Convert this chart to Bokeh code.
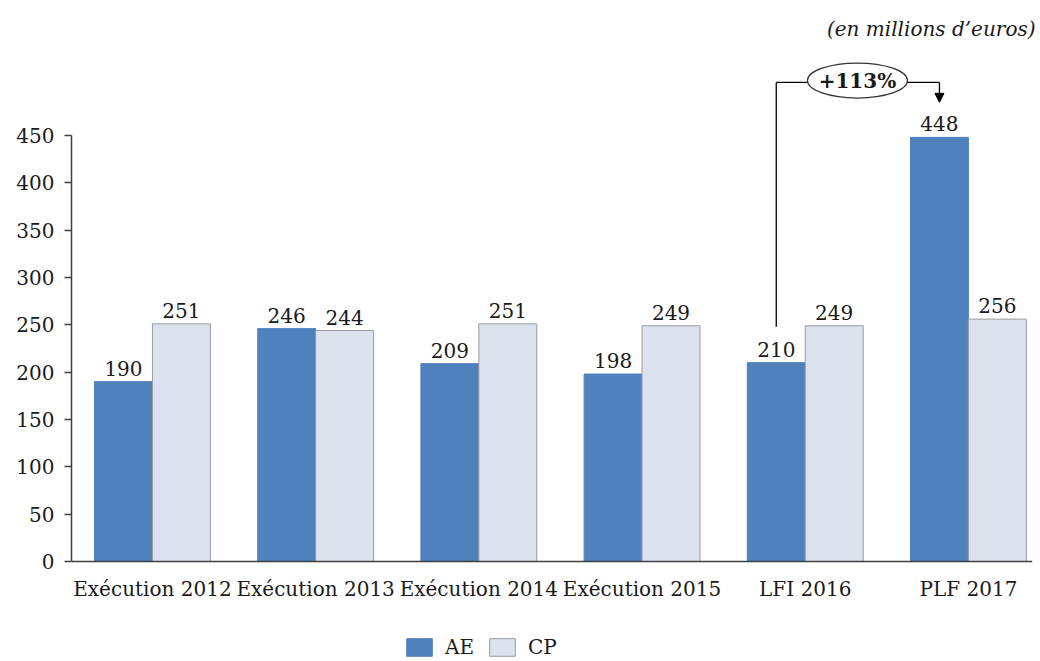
from bokeh.plotting import figure
from bokeh.models import (ColumnDataSource, FixedTicker, Legend, LegendItem,
                          Range1d, Arrow, NormalHead, Label)
from bokeh.core.properties import value
from bokeh.embed import file_html
from bokeh.resources import INLINE

# Budget figures (millions of euros)
categories = ["Exécution 2012", "Exécution 2013", "Exécution 2014",
              "Exécution 2015", "LFI 2016", "PLF 2017"]
ae_values = [190, 246, 209, 198, 210, 448]
cp_values = [251, 244, 251, 249, 249, 256]
y_ticks = [0, 50, 100, 150, 200, 250, 300, 350, 400, 450]
growth_label = "+113%"
unit_note = "(en millions d\u2019euros)"

FONT = "DejaVu Serif"
FS = "20px"
TXT = "#1a1a1a"
AXIS = "#404040"
AE_COLOR = "#4f81bd"
CP_COLOR = "#dce3ee"
BAR_W = 0.355
SHIFT = BAR_W / 2
X0, X1 = -0.496, 5.411

idx = list(range(len(categories)))
src = ColumnDataSource(dict(
    x_ae=[i - SHIFT for i in idx],
    x_cp=[i + SHIFT for i in idx],
    ae=ae_values,
    cp=cp_values,
    ae_txt=[str(v) for v in ae_values],
    cp_txt=[str(v) for v in cp_values],
))
cat_src = ColumnDataSource(dict(x=idx, y=[0] * len(idx), label=categories))

# Frame spans down to the page bottom so the legend sits inside it;
# the category axis is drawn by hand along y = 0.
p = figure(width=1040, height=661, output_backend="svg", toolbar_location=None,
           x_range=Range1d(X0, X1), y_range=Range1d(-105.6, 582),
           x_axis_location=None,
           min_border_left=71, min_border_right=5, min_border_top=10,
           min_border_bottom=0)
p.outline_line_color = None
p.grid.visible = False
p.background_fill_color = "white"

r_ae = p.vbar(x="x_ae", top="ae", width=BAR_W, source=src,
              fill_color=AE_COLOR, line_color=AE_COLOR, line_width=1)
r_cp = p.vbar(x="x_cp", top="cp", width=BAR_W, source=src,
              fill_color=CP_COLOR, line_color="#9a9a9a", line_width=1)

for xcol, ycol, tcol in (("x_ae", "ae", "ae_txt"), ("x_cp", "cp", "cp_txt")):
    p.text(x=xcol, y=ycol, text=tcol, source=src, text_align="center",
           text_baseline="bottom", y_offset=-6, text_font=value(FONT),
           text_font_size=value(FS), text_color=TXT)

# Value axis
ya = p.yaxis[0]
ya.ticker = FixedTicker(ticks=y_ticks)
ya.bounds = (0, 450)
ya.major_tick_in = 0
ya.major_tick_out = 7
ya.minor_tick_line_color = None
ya.major_label_standoff = 10
ya.axis_line_color = AXIS
ya.axis_line_width = 1.5
ya.major_tick_line_color = AXIS
ya.major_tick_line_width = 1.5
ya.major_label_text_font = FONT
ya.major_label_text_font_size = FS
ya.major_label_text_color = TXT

# Category axis line and labels
p.segment(x0=[X0], y0=[0], x1=[X1 - 0.02], y1=[0], line_color=AXIS,
          line_width=1.5)
p.text(x="x", y="y", text="label", source=cat_src, text_align="center",
       text_baseline="top", y_offset=15, text_font=value(FONT),
       text_font_size=value(FS), text_color=TXT)

# Growth annotation between LFI 2016 AE and PLF 2017 AE
i0, i1 = 4, 5
x0, x1 = i0 - SHIFT, i1 - SHIFT
y_top = 506
y_start = ae_values[i0] + 38
p.segment(x0=[x0, x0], y0=[y_start, y_top], x1=[x0, x1], y1=[y_top, y_top],
          line_color="black", line_width=1.3)
p.add_layout(Arrow(end=NormalHead(size=9, fill_color="black", line_color="black"),
                   x_start=x1, y_start=y_top, x_end=x1, y_end=ae_values[i1] + 37,
                   line_color="black", line_width=1.3))
ex = 4.32
p.ellipse(x=[ex], y=[y_top + 2], width=100, height=35, width_units="screen",
          height_units="screen", fill_color="white", line_color="#333333",
          line_width=1.2)
p.text(x=[ex], y=[y_top + 2], text=[growth_label], text_align="center",
       text_baseline="middle", text_font=value(FONT), text_font_size=value(FS),
       text_font_style="bold", text_color=TXT)

# Unit note
p.add_layout(Label(x=X1, y=562, text=unit_note, text_align="right",
                   text_baseline="middle", text_font=FONT, text_font_size=FS,
                   text_font_style="italic", text_color=TXT))

legend = Legend(items=[LegendItem(label="AE", renderers=[r_ae]),
                       LegendItem(label="CP", renderers=[r_cp])],
                location=(332, 2), orientation="horizontal",
                glyph_width=32, glyph_height=22, label_standoff=10, spacing=12,
                padding=0, margin=0, border_line_alpha=0,
                background_fill_alpha=0, label_text_font=FONT,
                label_text_font_size=FS, label_text_color=TXT,
                label_height=22)
p.add_layout(legend, "center")

open("out.html", "w").write(file_html(p, INLINE))
